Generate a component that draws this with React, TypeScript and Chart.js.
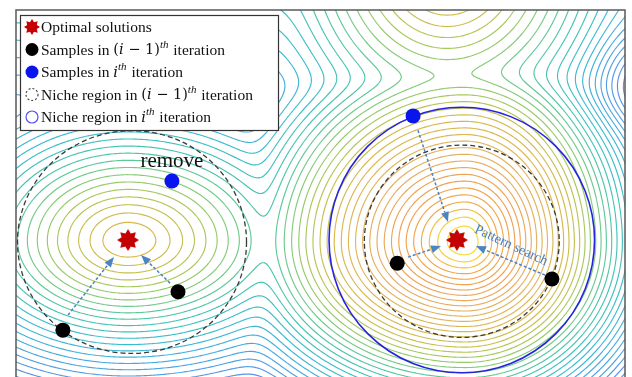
import { useEffect, useRef } from "react";
import { Chart, registerables } from "chart.js";

Chart.register(...registerables);

// Axis domain of the search space
const xRange = [0, 10];
const yRange = [0, 6.03];

// Fitness landscape: rounded elliptical cones (separate slopes on each side)
// blended with a soft maximum
const peakX = [1.84, 7.37, 7.08, 1.5];
const peakY = [2.24, 2.215, 6.85, 9.5];
const peakTop = [0, 14.9, 1.2, -3.3];
const slopeLeft = [6.4, 8.7, 6.5, 1.2];
const slopeRight = [5.8, 11.5, 6.5, 1.2];
const slopeUp = [8.8, 9.4, 6.0, 3.6];
const slopeDown = [9.8, 12.0, 6.0, 3.6];
const tipRound = [3, 3, 3, 3];
const blendWidth = 1.4;
// Shallow basin near the upper-right border
const dipX = [10.3];
const dipY = [4.9];
const dipDepth = [5];
const dipWidth = [0.75];
// Contour levels drawn
const levelMin = -50;
const levelMax = 18;

// Markers
const optimaX = [1.84, 7.24];
const optimaY = [2.25, 2.25];
const prevSampleX = [0.77, 2.66, 6.26, 8.8];
const prevSampleY = [0.77, 1.4, 1.87, 1.61];
const currSampleX = [2.56, 6.52];
const currSampleY = [3.22, 4.29];

// Niche regions
const prevNicheX = [1.905, 7.32];
const prevNicheY = [2.217, 2.23];
const prevNicheRX = [1.88, 1.6];
const prevNicheRY = [1.83, 1.58];
const currNicheX = [7.32];
const currNicheY = [2.25];
const currNicheR = [2.18];

// Moves toward the optima
const arrowFromX = [0.854, 2.529, 6.6, 6.437, 8.686];
const arrowFromY = [1.018, 1.543, 4.056, 1.97, 1.675];
const arrowToX = [1.609, 2.053, 7.094, 6.979, 7.553];
const arrowToY = [1.97, 2.003, 2.545, 2.151, 2.151];

// Annotations
const removeLabel = "remove";
const removeLabelX = 2.56;
const removeLabelY = 3.45;
const searchLabel = "Pattern search";
const searchLabelX = 8.13;
const searchLabelY = 2.16;
const searchLabelAngle = 25;

// Legend rows: [text, style] runs (n normal, m math, i math italic, s superscript)
const legendRows: [string, string][][] = [
  [["Optimal solutions", "n"]],
  [["Samples in ", "n"], ["(", "m"], ["i", "i"], [" \u2212 1)", "m"], ["th", "s"], [" iteration", "n"]],
  [["Samples in ", "n"], ["i", "i"], ["th", "s"], [" iteration", "n"]],
  [["Niche region in ", "n"], ["(", "m"], ["i", "i"], [" \u2212 1)", "m"], ["th", "s"], [" iteration", "n"]],
  [["Niche region in ", "n"], ["i", "i"], ["th", "s"], [" iteration", "n"]],
];

// Contour colour ramp: [level, colour]
const rampLevels = [-21, -17, -14, -11, -9, -7, -5, -3, -1, 2, 5, 8, 11, 13, 15];
const rampColors = [
  "#5a94ea", "#45aae0", "#3abcd0", "#44c4b4", "#5cc89a", "#84cc78", "#a8c85c",
  "#c8bf4e", "#d8b84a", "#dfb65a", "#e9ac60", "#f0a050", "#f2a845", "#f4d038", "#f5e630",
];

const SERIF = "'Liberation Serif', 'Times New Roman', serif";
const MATH = "'DejaVu Serif', serif";

function field(x: number, y: number): number {
  let s = 0;
  for (let k = 0; k < peakX.length; k++) {
    const dx = x - peakX[k];
    const dy = y - peakY[k];
    const a = Math.hypot((dx < 0 ? slopeLeft[k] : slopeRight[k]) * dx, (dy > 0 ? slopeUp[k] : slopeDown[k]) * dy);
    const e = tipRound[k];
    const cone = peakTop[k] - (Math.sqrt(a * a + e * e) - e);
    s += Math.exp(cone / blendWidth);
  }
  let v = blendWidth * Math.log(s);
  for (let k = 0; k < dipX.length; k++) {
    const d2 = ((x - dipX[k]) ** 2 + (y - dipY[k]) ** 2) / (dipWidth[k] ** 2);
    v -= dipDepth[k] * Math.exp(-d2);
  }
  return v;
}

function hexToRgb(h: string): number[] {
  return [parseInt(h.slice(1, 3), 16), parseInt(h.slice(3, 5), 16), parseInt(h.slice(5, 7), 16)];
}

function colorFor(level: number): string {
  if (level <= rampLevels[0]) return rampColors[0];
  for (let k = 1; k < rampLevels.length; k++) {
    if (level <= rampLevels[k]) {
      const t = (level - rampLevels[k - 1]) / (rampLevels[k] - rampLevels[k - 1]);
      const a = hexToRgb(rampColors[k - 1]);
      const b = hexToRgb(rampColors[k]);
      const c = a.map((v, i) => Math.round(v + (b[i] - v) * t));
      return `rgb(${c[0]},${c[1]},${c[2]})`;
    }
  }
  return rampColors[rampColors.length - 1];
}

function starImage(R: number, r: number, color: string): HTMLCanvasElement {
  const c = document.createElement("canvas");
  const s = Math.ceil(R * 2 + 2);
  c.width = s;
  c.height = s;
  const g = c.getContext("2d")!;
  g.beginPath();
  for (let k = 0; k < 16; k++) {
    const ang = -Math.PI / 2 + (k * Math.PI) / 8;
    const rad = k % 2 === 0 ? R : r;
    g.lineTo(s / 2 + rad * Math.cos(ang), s / 2 + rad * Math.sin(ang));
  }
  g.closePath();
  g.fillStyle = color;
  g.fill();
  return c;
}

function drawContours(chart: any) {
  const { ctx, chartArea: area, scales } = chart;
  const xs = scales.x;
  const ys = scales.y;
  const step = 2;
  const nx = Math.ceil(area.width / step) + 1;
  const ny = Math.ceil(area.height / step) + 1;
  const vals = new Float64Array(nx * ny);
  for (let j = 0; j < ny; j++) {
    const y = ys.getValueForPixel(area.top + j * step);
    for (let i = 0; i < nx; i++) {
      const x = xs.getValueForPixel(area.left + i * step);
      vals[j * nx + i] = field(x, y);
    }
  }
  ctx.save();
  ctx.beginPath();
  ctx.rect(area.left, area.top, area.width, area.height);
  ctx.clip();
  ctx.lineWidth = 1.15;
  ctx.lineCap = "round";
  for (let L = levelMin; L <= levelMax; L++) {
    ctx.beginPath();
    for (let j = 0; j < ny - 1; j++) {
      const py0 = area.top + j * step;
      for (let i = 0; i < nx - 1; i++) {
        const px0 = area.left + i * step;
        const tl = vals[j * nx + i] - L;
        const tr = vals[j * nx + i + 1] - L;
        const bl = vals[(j + 1) * nx + i] - L;
        const br = vals[(j + 1) * nx + i + 1] - L;
        const idx = (tl > 0 ? 8 : 0) | (tr > 0 ? 4 : 0) | (br > 0 ? 2 : 0) | (bl > 0 ? 1 : 0);
        if (idx === 0 || idx === 15) continue;
        const top = () => [px0 + (step * tl) / (tl - tr), py0];
        const right = () => [px0 + step, py0 + (step * tr) / (tr - br)];
        const bottom = () => [px0 + (step * bl) / (bl - br), py0 + step];
        const left = () => [px0, py0 + (step * tl) / (tl - bl)];
        const seg = (p: number[], q: number[]) => {
          ctx.moveTo(p[0], p[1]);
          ctx.lineTo(q[0], q[1]);
        };
        switch (idx) {
          case 1: case 14: seg(left(), bottom()); break;
          case 2: case 13: seg(bottom(), right()); break;
          case 3: case 12: seg(left(), right()); break;
          case 4: case 11: seg(top(), right()); break;
          case 6: case 9: seg(top(), bottom()); break;
          case 7: case 8: seg(top(), left()); break;
          case 5: case 10: {
            const c = (tl + tr + bl + br) / 4;
            if ((c > 0) === (tl > 0)) {
              seg(top(), right());
              seg(bottom(), left());
            } else {
              seg(top(), left());
              seg(right(), bottom());
            }
            break;
          }
        }
      }
    }
    ctx.strokeStyle = colorFor(L);
    ctx.stroke();
  }
  ctx.restore();
}

function drawRegionsAndArrows(chart: any) {
  const { ctx, chartArea: area, scales } = chart;
  const xs = scales.x;
  const ys = scales.y;
  const px = (v: number) => xs.getPixelForValue(v);
  const py = (v: number) => ys.getPixelForValue(v);
  ctx.save();
  ctx.beginPath();
  ctx.rect(area.left, area.top, area.width, area.height);
  ctx.clip();

  // previous niche regions
  ctx.setLineDash([5, 3]);
  ctx.strokeStyle = "#3a3a3a";
  ctx.lineWidth = 1.3;
  for (let k = 0; k < prevNicheX.length; k++) {
    const cx = px(prevNicheX[k]);
    const cy = py(prevNicheY[k]);
    const rx = px(prevNicheX[k] + prevNicheRX[k]) - cx;
    const ry = cy - py(prevNicheY[k] + prevNicheRY[k]);
    ctx.beginPath();
    ctx.ellipse(cx, cy, rx, ry, 0, 0, Math.PI * 2);
    ctx.stroke();
  }
  // current niche regions
  ctx.setLineDash([]);
  ctx.strokeStyle = "#2424e0";
  ctx.lineWidth = 1.6;
  for (let k = 0; k < currNicheX.length; k++) {
    const cx = px(currNicheX[k]);
    const cy = py(currNicheY[k]);
    const r = px(currNicheX[k] + currNicheR[k]) - cx;
    ctx.beginPath();
    ctx.arc(cx, cy, r, 0, Math.PI * 2);
    ctx.stroke();
  }

  // arrows
  const arrowColor = "#4a84c2";
  for (let k = 0; k < arrowFromX.length; k++) {
    const x0 = px(arrowFromX[k]);
    const y0 = py(arrowFromY[k]);
    const x1 = px(arrowToX[k]);
    const y1 = py(arrowToY[k]);
    const ang = Math.atan2(y1 - y0, x1 - x0);
    const head = 10;
    const hw = 4;
    const bx = x1 - head * Math.cos(ang);
    const by = y1 - head * Math.sin(ang);
    ctx.setLineDash([3, 2]);
    ctx.strokeStyle = arrowColor;
    ctx.lineWidth = 1.5;
    ctx.beginPath();
    ctx.moveTo(x0, y0);
    ctx.lineTo(bx, by);
    ctx.stroke();
    ctx.setLineDash([]);
    ctx.fillStyle = arrowColor;
    ctx.beginPath();
    ctx.moveTo(x1, y1);
    ctx.lineTo(bx + hw * Math.sin(ang), by - hw * Math.cos(ang));
    ctx.lineTo(bx - hw * Math.sin(ang), by + hw * Math.cos(ang));
    ctx.closePath();
    ctx.fill();
  }
  ctx.restore();
}

function drawRuns(ctx: CanvasRenderingContext2D, runs: [string, string][], x: number, y: number, size: number) {
  let cx = x;
  for (const [text, style] of runs) {
    if (style === "s") {
      ctx.font = `italic ${Math.round(size * 0.72)}px ${SERIF}`;
      ctx.fillText(text, cx, y - size * 0.38);
      cx += ctx.measureText(text).width + 1;
      continue;
    }
    if (style === "m") ctx.font = `${size - 1}px ${MATH}`;
    else if (style === "i") ctx.font = `italic ${size - 1}px ${MATH}`;
    else ctx.font = `${size}px ${SERIF}`;
    ctx.fillText(text, cx, y);
    cx += ctx.measureText(text).width;
  }
}

function drawOverlay(chart: any, star: HTMLCanvasElement) {
  const { ctx, chartArea: area, scales } = chart;
  const xs = scales.x;
  const ys = scales.y;
  ctx.save();

  // annotations
  ctx.fillStyle = "#111";
  ctx.font = `21px ${SERIF}`;
  ctx.textAlign = "center";
  ctx.textBaseline = "alphabetic";
  ctx.fillText(removeLabel, xs.getPixelForValue(removeLabelX), ys.getPixelForValue(removeLabelY));

  ctx.save();
  ctx.translate(xs.getPixelForValue(searchLabelX), ys.getPixelForValue(searchLabelY));
  ctx.rotate((searchLabelAngle * Math.PI) / 180);
  ctx.fillStyle = "#4a7fbe";
  ctx.font = `14px ${SERIF}`;
  ctx.textBaseline = "middle";
  ctx.fillText(searchLabel, 0, 0);
  ctx.restore();

  // frame (left, top, right)
  ctx.strokeStyle = "#5a5a5a";
  ctx.lineWidth = 1.5;
  ctx.beginPath();
  ctx.moveTo(area.left, area.bottom);
  ctx.lineTo(area.left, area.top);
  ctx.lineTo(area.right, area.top);
  ctx.lineTo(area.right, area.bottom);
  ctx.stroke();

  // legend
  const lx = area.left + 4;
  const ly = area.top + 5;
  const lw = 258;
  const lh = 115;
  ctx.fillStyle = "#ffffff";
  ctx.fillRect(lx, ly, lw, lh);
  ctx.strokeStyle = "#333";
  ctx.lineWidth = 1.2;
  ctx.strokeRect(lx + 0.5, ly + 0.5, lw, lh);
  const rowY = [27, 49.5, 72, 94.5, 117];
  const mx = lx + 12;
  ctx.textAlign = "left";
  ctx.textBaseline = "middle";
  for (let k = 0; k < legendRows.length; k++) {
    const y = rowY[k];
    if (k === 0) {
      ctx.drawImage(star, mx - star.width / 2, y - star.height / 2);
    } else if (k === 1 || k === 2) {
      ctx.fillStyle = k === 1 ? "#000" : "#0a14ee";
      ctx.beginPath();
      ctx.arc(mx, y, 6.5, 0, Math.PI * 2);
      ctx.fill();
    } else {
      ctx.setLineDash(k === 3 ? [2, 2] : []);
      ctx.strokeStyle = k === 3 ? "#444" : "#5050f0";
      ctx.lineWidth = 1.2;
      ctx.beginPath();
      ctx.arc(mx, y, 6, 0, Math.PI * 2);
      ctx.stroke();
      ctx.setLineDash([]);
    }
    ctx.fillStyle = "#111";
    drawRuns(ctx, legendRows[k], lx + 21, y + 1, 15.5);
  }
  ctx.restore();
}

export default function App() {
  const ref = useRef<HTMLCanvasElement>(null);
  useEffect(() => {
    const star = starImage(11, 7, "#c40000");
    const legendStar = starImage(8, 5.2, "#c40000");
    const chart = new Chart(ref.current!, {
      type: "scatter",
      data: {
        datasets: [
          {
            label: "Optimal solutions",
            data: optimaX.map((x, i) => ({ x, y: optimaY[i] })),
            pointStyle: star,
            pointRadius: 11,
          },
          {
            label: "Samples in (i-1)th iteration",
            data: prevSampleX.map((x, i) => ({ x, y: prevSampleY[i] })),
            pointStyle: "circle",
            pointRadius: 7.5,
            backgroundColor: "#000",
            borderWidth: 0,
          },
          {
            label: "Samples in ith iteration",
            data: currSampleX.map((x, i) => ({ x, y: currSampleY[i] })),
            pointStyle: "circle",
            pointRadius: 7.5,
            backgroundColor: "#0a14ee",
            borderWidth: 0,
          },
        ],
      },
      options: {
        animation: false,
        responsive: false,
        events: [],
        layout: { autoPadding: false, padding: { left: 16, top: 10, right: 7, bottom: 0 } },
        plugins: { legend: { display: false }, tooltip: { enabled: false } },
        scales: {
          x: { type: "linear", min: xRange[0], max: xRange[1], display: false },
          y: { type: "linear", min: yRange[0], max: yRange[1], display: false },
        },
      },
      plugins: [
        {
          id: "landscape",
          beforeDatasetsDraw(c: any) {
            drawContours(c);
            drawRegionsAndArrows(c);
          },
          afterDraw(c: any) {
            drawOverlay(c, legendStar);
          },
        },
      ],
    });
    return () => chart.destroy();
  }, []);
  return (
    <div style={{ position: "absolute", left: 0, top: 0, width: 632, height: 377, background: "#fff" }}>
      <canvas ref={ref} width={632} height={377} style={{ display: "block" }} />
    </div>
  );
}
